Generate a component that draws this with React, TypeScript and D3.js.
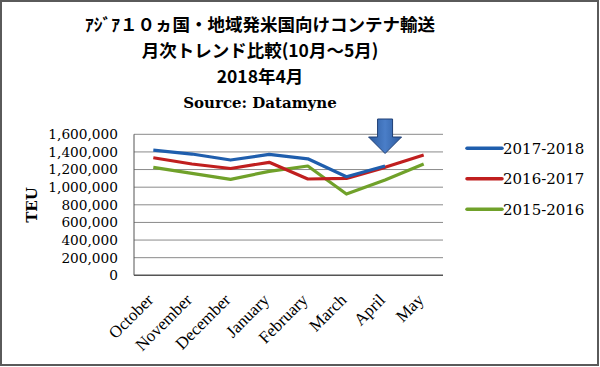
import React, { useEffect } from "react";
import * as d3 from "d3";

const months = ["October", "November", "December", "January", "February", "March", "April", "May"];
const series2017_2018 = [1420000, 1376000, 1308000, 1373000, 1322000, 1119000, 1240000, null];
const series2016_2017 = [1334000, 1263000, 1212000, 1282000, 1093000, 1100000, 1225000, 1365000];
const series2015_2016 = [1225000, 1157000, 1089000, 1180000, 1240000, 922000, 1081000, 1263000];
const seriesNames = ["2017-2018", "2016-2017", "2015-2016"];
const seriesColors = ["#1F5EAD", "#C01F1F", "#70A12A"];
const yTicks = [0, 200000, 400000, 600000, 800000, 1000000, 1200000, 1400000, 1600000];
const titleLines = ["ｱｼﾞｱ１０ヵ国・地域発米国向けコンテナ輸送", "月次トレンド比較(10月～5月)", "2018年4月"];
const sourceLine = "Source: Datamyne";
const yAxisTitle = "TEU";

export default function App() {
  useEffect(() => {
    document.body.style.margin = "0";
  }, []);

  const W = 600, H = 367;
  const x = d3.scaleBand<string>().domain(months).range([134, 443]).padding(0);
  const y = d3.scaleLinear().domain([0, 1600000]).range([275.3, 134.3]);
  const cx = (m: string) => (x(m) as number) + x.bandwidth() / 2;
  const fmt = d3.format(",");

  const allSeries = [series2017_2018, series2016_2017, series2015_2016];
  const line = d3
    .line<number | null>()
    .defined((d) => d !== null)
    .x((_, i) => cx(months[i]))
    .y((d) => y(d as number));

  const arrowX = cx("April");
  const arrowPath = `M${arrowX - 7.5},119 L${arrowX + 7.5},119 L${arrowX + 7.5},137 L${arrowX + 16.5},137 L${arrowX},153.5 L${arrowX - 16.5},137 L${arrowX - 7.5},137 Z`;

  return (
    <svg width={W} height={H} style={{ display: "block" }}>
      <defs>
        <linearGradient id="arrowGrad" x1="0" x2="1" y1="0" y2="0">
          <stop offset="0" stopColor="#2C5A9E" />
          <stop offset="0.5" stopColor="#4A7EC8" />
          <stop offset="1" stopColor="#2C5A9E" />
        </linearGradient>
      </defs>
      <rect x={0} y={0} width={W} height={H} fill="#fff" />
      <rect x={1} y={1} width={W - 3} height={H - 3} fill="#fff" stroke="#5a5a5a" strokeWidth={2} />

      {titleLines.map((t, i) => (
        <text
          key={i}
          x={260}
          y={31 + i * 26}
          textAnchor="middle"
          fontFamily="'Noto Sans CJK JP'"
          fontWeight="bold"
          fontSize={17.5}
          fill="#000"
        >
          {t}
        </text>
      ))}
      <text x={260} y={108} textAnchor="middle" fontFamily="'DejaVu Serif'" fontWeight="bold" fontSize={15} fill="#000">
        {sourceLine}
      </text>

      {yTicks.map((t) => (
        <g key={t}>
          <line x1={134} x2={443} y1={y(t)} y2={y(t)} stroke={t === 0 ? "#555" : "#8a8a8a"} strokeWidth={t === 0 ? 1.5 : 1} />
          <text
            x={118}
            y={y(t)}
            dy="0.36em"
            textAnchor="end"
            fontFamily="'DejaVu Serif'"
            fontSize={13.7}
            fill="#000"
          >
            {fmt(t)}
          </text>
        </g>
      ))}
      <line x1={134} x2={134} y1={y(1600000)} y2={y(0)} stroke="#555" strokeWidth={1} />

      <text
        transform={`translate(37,205) rotate(-90)`}
        textAnchor="middle"
        fontFamily="'DejaVu Serif'"
        fontWeight="bold"
        fontSize={15}
        fill="#000"
      >
        {yAxisTitle}
      </text>

      {months.map((m) => (
        <text
          key={m}
          transform={`translate(${cx(m) + 1},301) rotate(-45)`}
          textAnchor="end"
          fontFamily="'Liberation Serif'"
          fontSize={17}
          fill="#000"
        >
          {m}
        </text>
      ))}

      {allSeries
        .map((s, i) => ({ s, i }))
        .reverse()
        .map(({ s, i }) => (
          <path key={i} d={line(s) || ""} fill="none" stroke={seriesColors[i]} strokeWidth={3.2} strokeLinejoin="round" />
        ))}

      <path d={arrowPath} fill="url(#arrowGrad)" stroke="#1F3F75" strokeWidth={1} />

      {seriesNames.map((n, i) => (
        <g key={n}>
          <line x1={467} x2={502} y1={148.3 + i * 30.5} y2={148.3 + i * 30.5} stroke={seriesColors[i]} strokeWidth={3.5} strokeLinecap="round" />
          <text x={503} y={148.3 + i * 30.5} dy="0.36em" fontFamily="'DejaVu Serif'" fontSize={15} fill="#000">
            {n}
          </text>
        </g>
      ))}
    </svg>
  );
}
